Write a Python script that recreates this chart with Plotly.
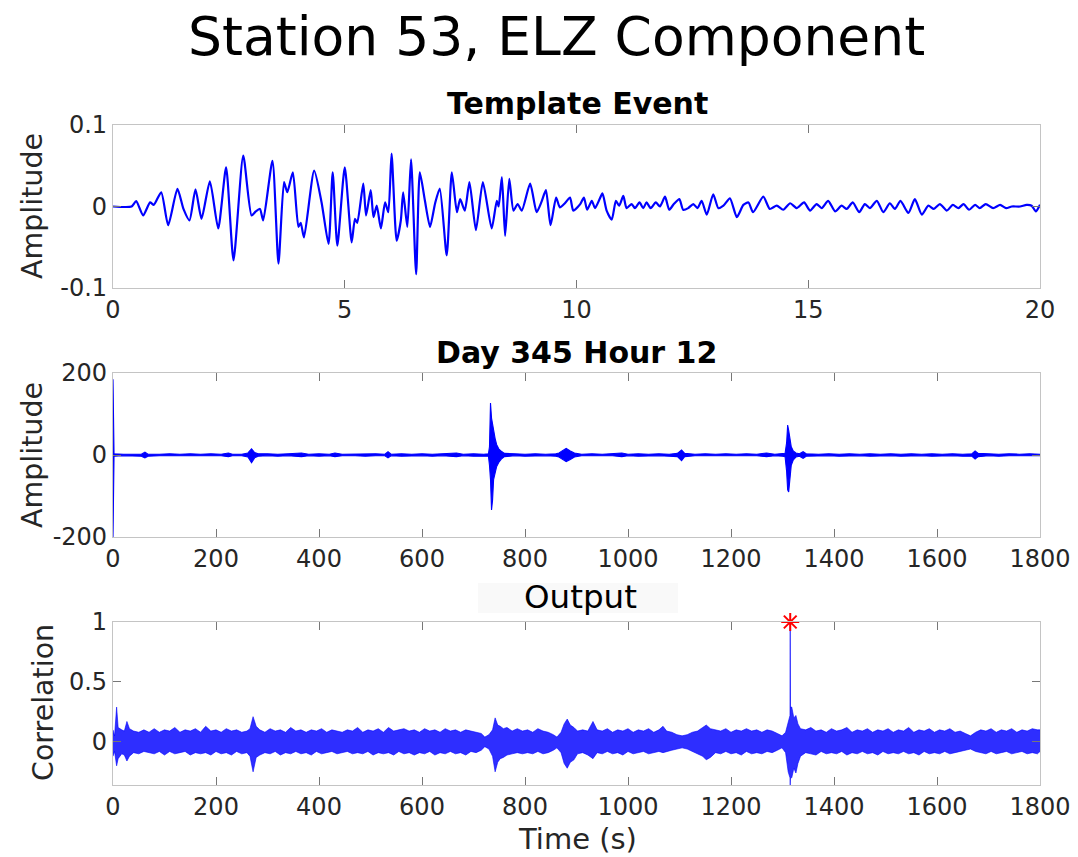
import plotly.graph_objects as go

# ---------------- Template event (seconds, amplitude) ----------------
tmpl_t = [0, 0.40, 0.50, 0.65, 0.80, 0.88, 1.04, 1.19, 1.39, 1.52, 1.65, 1.78, 1.91, 2.09, 2.27,
          2.44, 2.60, 2.81, 2.99, 3.08, 3.17, 3.24, 3.44, 3.57, 3.69, 3.76, 3.88, 4.00, 4.05, 4.12,
          4.34, 4.50, 4.65, 4.74, 4.84, 5.00, 5.15, 5.22, 5.27, 5.40, 5.46, 5.56, 5.62, 5.69, 5.78,
          5.87, 5.94, 6.01, 6.12, 6.21, 6.26, 6.35, 6.43, 6.54, 6.62, 6.73, 6.84, 6.95, 7.05, 7.20,
          7.31, 7.42, 7.49, 7.59, 7.69, 7.83, 7.98, 8.17, 8.28, 8.32, 8.39, 8.46, 8.55, 8.64, 8.73,
          8.82, 9.00, 9.14, 9.24, 9.34, 9.44, 9.56, 9.64, 9.75, 9.86, 9.93,
          10.08, 10.16, 10.23, 10.33, 10.40, 10.49, 10.56, 10.65, 10.76, 10.85, 10.92, 11.01, 11.08,
          11.19, 11.26, 11.36, 11.44, 11.51, 11.60, 11.71, 11.80, 11.91, 12.00, 12.10, 12.22, 12.30,
          12.41, 12.52, 12.61, 12.70, 12.81, 12.95, 13.06, 13.17, 13.31, 13.46, 13.60, 13.71, 13.81,
          14.03, 14.17, 14.32, 14.46, 14.61, 14.75, 14.91, 15.04, 15.18, 15.29, 15.43, 15.58, 15.72,
          15.83, 15.96, 16.10, 16.22, 16.33, 16.48, 16.62, 16.76, 16.87, 16.99, 17.16, 17.30, 17.45,
          17.59, 17.71, 17.84, 17.99, 18.12, 18.24, 18.35, 18.47, 18.60, 18.70, 18.83, 18.99, 19.14,
          19.27, 19.39, 19.57, 19.71, 19.82, 19.91, 20.0]
tmpl_amp = [0, 0, 0.0065, -0.011, 0.005, 0.002, 0.0175, -0.023, 0.0217, -0.003, -0.017, 0.021, -0.015,
            0.031, -0.027, 0.048, -0.066, 0.0626, -0.011, -0.006, -0.003, -0.017, 0.056, -0.070, 0.030,
            0.0175, 0.042, -0.025, -0.020, -0.038, 0.044, 0.005, -0.046, 0.042, -0.048, 0.048, -0.044,
            -0.015, -0.020, 0.028, -0.011, 0.020, -0.013, 0.001, -0.027, 0.005, -0.007, 0.065, -0.042,
            -0.017, 0.0175, -0.025, 0.058, -0.083, 0.042, 0.007, -0.025, 0.004, 0.022, -0.060, 0.042,
            -0.007, 0.009, -0.005, 0.030, -0.029, 0.030, -0.027, 0.007, 0.0, 0.036, -0.036, 0.034,
            -0.005, 0.003, -0.005, 0.028, -0.007, 0.005, 0.020, -0.023, 0.011, -0.001, 0.004, 0.011,
            -0.005,
            0.003, 0.011, -0.004, 0.007, -0.002, 0.008, 0.016, -0.005, -0.016, 0.007, 0.001, 0.013,
            -0.002, 0.003, -0.002, 0.005, -0.002, 0.005, -0.002, 0.005, 0.0, 0.012, -0.004, 0.003,
            0.009, -0.004, -0.002, 0.003, -0.002, 0.007, -0.010, 0.015, -0.002, 0.001, 0.010, -0.013,
            0.002, 0.005, -0.007, 0.012, -0.003, 0.001, -0.004, 0.004, -0.002, 0.005, -0.005, 0.003,
            -0.002, 0.007, -0.006, 0.001, -0.003, 0.005, -0.007, 0.003, -0.002, 0.007, -0.007, 0.004,
            -0.003, 0.007, -0.008, 0.009, -0.010, 0.001, -0.003, 0.003, -0.005, 0.002, -0.002, 0.003,
            -0.004, 0.002, -0.002, 0.003, -0.002, 0.002, -0.002, 0.0, 0.0, 0.002, 0.001, -0.006, 0.002]

# ---------------- Day 345 Hour 12 (envelope of the record) ----------------
day_t = [0, 2, 20, 40, 55, 62, 68, 90, 110, 130, 150, 170, 190, 210, 224, 232, 250, 262, 269, 275,
         282, 300, 320, 340, 366, 380, 400, 420, 431, 445, 470, 490, 510, 528, 534, 540, 560, 580,
         600, 620, 640, 667, 680, 700, 720, 729, 731, 733, 735, 737, 739, 742, 745, 749, 754, 760,
         780, 800, 820, 840, 860, 866, 872, 880, 888, 896, 910, 930, 950, 970, 988, 1000, 1020,
         1040, 1060, 1080, 1096, 1104, 1110, 1130, 1150, 1170, 1190, 1210, 1230, 1250, 1269, 1285,
         1300, 1305, 1308, 1310, 1312, 1314, 1317, 1321, 1326, 1333, 1340, 1346, 1370, 1390, 1410,
         1430, 1450, 1470, 1490, 1510, 1530, 1550, 1570, 1590, 1610, 1630, 1650, 1668, 1674, 1680,
         1700, 1720, 1740, 1760, 1780, 1800]
day_hi = [185, 3, 2, 3, 2, 7, 2, 2, 3, 2, 3, 2, 3, 2, 5, 2, 2, 5, 15, 6,
          3, 3, 2, 3, 5, 2, 3, 2, 5, 2, 3, 2, 3, 2, 8, 2, 3, 2,
          3, 2, 3, 5, 2, 3, 2, 3, 20, 127, 90, 75, 57, 40, 25, 15, 9, 4,
          3, 2, 3, 2, 3, 5, 10, 16, 10, 5, 2, 3, 2, 3, 5, 2, 3,
          2, 3, 2, 4, 12, 4, 2, 3, 2, 3, 2, 3, 2, 5, 2,
          3, 4, 30, 73, 60, 40, 20, 10, 5, 3, 8, 3, 2, 3, 2,
          3, 2, 3, 2, 3, 2, 3, 2, 3, 2, 3, 2, 3, 10, 4,
          3, 2, 3, 2, 3, 2]
day_lo = [-200, -3, -2, -2, -3, -7, -3, -2, -2, -3, -2, -2, -3, -2, -4, -2, -2, -5, -19, -7,
          -3, -2, -3, -2, -4, -2, -3, -2, -4, -2, -2, -3, -2, -2, -7, -2, -3, -2,
          -2, -3, -2, -4, -2, -3, -2, -3, -25, -60, -134, -110, -60, -45, -28, -18, -10, -4,
          -2, -3, -2, -2, -3, -5, -10, -16, -11, -5, -2, -2, -3, -2, -4, -2, -3,
          -2, -2, -3, -4, -14, -4, -2, -2, -3, -2, -2, -3, -2, -4, -2,
          -3, -4, -40, -85, -90, -60, -25, -12, -5, -3, -8, -3, -2, -2, -3,
          -2, -2, -3, -2, -2, -3, -2, -2, -3, -2, -2, -3, -3, -10, -4,
          -2, -3, -2, -2, -3, -2]

# ---------------- Correlation output (envelope) ----------------
corr_t = [0, 3, 7, 10, 17, 22, 27, 32, 40, 50, 60, 70, 80, 90, 100, 110, 120, 130, 140, 150, 160,
          170, 180, 190, 200, 210, 220, 230, 240, 250, 260, 266, 272, 278, 285, 295, 305, 315, 325,
          335, 345, 355, 365, 375, 385, 395, 405, 415, 425, 435, 445, 455, 465, 475, 485, 495, 505,
          515, 525, 535, 545, 555, 565, 575, 585, 595, 605, 615, 625, 635, 645, 655, 665, 675, 685,
          695, 705, 715, 722, 730, 737, 742, 747, 752, 758, 765, 775, 785, 795, 805, 815, 825, 835,
          845, 855, 862, 870, 876, 882, 888, 895, 902, 912, 922, 932, 940, 950, 960, 970, 980, 990,
          1000, 1010, 1020, 1030, 1040, 1050, 1060, 1068, 1075, 1085, 1095, 1105, 1115, 1125, 1135,
          1145, 1152, 1160, 1170, 1180, 1190, 1200, 1210, 1220, 1230, 1240, 1250, 1260, 1270, 1280,
          1290, 1299, 1306, 1311, 1314.5, 1315, 1315.5, 1318, 1322, 1326, 1330, 1335, 1345, 1355,
          1365, 1375, 1385, 1395, 1405, 1415, 1425, 1435, 1445, 1455, 1465, 1475, 1485, 1495, 1505,
          1515, 1525, 1535, 1545, 1555, 1565, 1575, 1585, 1595, 1605, 1615, 1625, 1635, 1645, 1655,
          1665, 1675, 1685, 1695, 1705, 1715, 1725, 1735, 1745, 1755, 1765, 1775, 1785, 1795, 1800]
corr_hi = [0.10, 0.05, 0.29, 0.12, 0.10, 0.09, 0.17, 0.11, 0.09, 0.08, 0.10, 0.08, 0.11, 0.08, 0.10,
           0.09, 0.12, 0.08, 0.10, 0.09, 0.11, 0.08, 0.13, 0.09, 0.10, 0.08, 0.11, 0.09, 0.10, 0.08,
           0.09, 0.11, 0.21, 0.13, 0.10, 0.08, 0.11, 0.09, 0.10, 0.08, 0.12, 0.09, 0.10, 0.08, 0.10,
           0.09, 0.11, 0.08, 0.10, 0.09, 0.08, 0.10, 0.09, 0.12, 0.08, 0.10, 0.09, 0.11, 0.08, 0.12,
           0.09, 0.10, 0.11, 0.09, 0.10, 0.08, 0.11, 0.09, 0.10, 0.08, 0.11, 0.09, 0.10, 0.08, 0.10,
           0.09, 0.08, 0.07, 0.04, 0.06, 0.10, 0.20, 0.14, 0.13, 0.11, 0.12, 0.09, 0.11, 0.09, 0.10,
           0.08, 0.11, 0.09, 0.08, 0.06, 0.04, 0.08, 0.15, 0.19, 0.14, 0.12, 0.09, 0.10, 0.09, 0.17,
           0.10, 0.09, 0.11, 0.08, 0.10, 0.09, 0.11, 0.08, 0.10, 0.09, 0.11, 0.08, 0.10, 0.13, 0.09,
           0.08, 0.06, 0.05, 0.06, 0.08, 0.09, 0.12, 0.14, 0.11, 0.10, 0.09, 0.11, 0.08, 0.10, 0.09,
           0.11, 0.09, 0.10, 0.08, 0.10, 0.09, 0.07, 0.05, 0.08, 0.15, 0.22, 1.0, 0.29, 0.29, 0.20,
           0.22, 0.15, 0.11, 0.10, 0.12, 0.09, 0.10, 0.08, 0.11, 0.09, 0.10, 0.12, 0.08, 0.10, 0.09,
           0.11, 0.08, 0.10, 0.09, 0.11, 0.08, 0.10, 0.09, 0.12, 0.08, 0.10, 0.09, 0.11, 0.08, 0.10,
           0.09, 0.11, 0.08, 0.09, 0.07, 0.05, 0.08, 0.10, 0.09, 0.11, 0.08, 0.10, 0.09, 0.11, 0.08,
           0.10, 0.09, 0.11, 0.10, 0.10]
corr_lo = [-0.12, -0.08, -0.20, -0.14, -0.10, -0.11, -0.16, -0.12, -0.09, -0.10, -0.08, -0.09, -0.10,
           -0.08, -0.11, -0.08, -0.10, -0.09, -0.08, -0.11, -0.09, -0.10, -0.09, -0.11, -0.08, -0.10,
           -0.09, -0.11, -0.08, -0.10, -0.09, -0.12, -0.25, -0.13, -0.11, -0.09, -0.10, -0.08, -0.11,
           -0.09, -0.10, -0.08, -0.10, -0.09, -0.11, -0.08, -0.10, -0.09, -0.08, -0.10, -0.09, -0.08,
           -0.10, -0.09, -0.10, -0.08, -0.11, -0.09, -0.10, -0.09, -0.11, -0.08, -0.10, -0.09, -0.11,
           -0.09, -0.10, -0.08, -0.11, -0.09, -0.10, -0.08, -0.10, -0.09, -0.11, -0.08, -0.09, -0.07,
           -0.04, -0.06, -0.12, -0.25, -0.17, -0.14, -0.13, -0.11, -0.10, -0.09, -0.10, -0.09, -0.10,
           -0.08, -0.10, -0.09, -0.07, -0.05, -0.09, -0.18, -0.22, -0.17, -0.15, -0.10, -0.09, -0.11,
           -0.14, -0.09, -0.10, -0.08, -0.10, -0.09, -0.11, -0.08, -0.10, -0.09, -0.08, -0.10, -0.09,
           -0.08, -0.09, -0.08, -0.07, -0.06, -0.05, -0.06, -0.08, -0.10, -0.12, -0.15, -0.13, -0.09,
           -0.10, -0.08, -0.10, -0.09, -0.11, -0.08, -0.10, -0.09, -0.10, -0.08, -0.09, -0.07, -0.05,
           -0.09, -0.25, -0.30, -0.36, -0.30, -0.30, -0.22, -0.26, -0.18, -0.12, -0.09, -0.10, -0.11,
           -0.08, -0.10, -0.09, -0.10, -0.08, -0.11, -0.09, -0.10, -0.08, -0.10, -0.09, -0.11, -0.08,
           -0.10, -0.09, -0.10, -0.08, -0.10, -0.09, -0.11, -0.08, -0.10, -0.09, -0.10, -0.08, -0.10,
           -0.09, -0.08, -0.07, -0.06, -0.08, -0.09, -0.10, -0.08, -0.10, -0.09, -0.08, -0.10, -0.09,
           -0.08, -0.10, -0.09, -0.10, -0.08]

peak_t = [1315]
peak_val = [1.0]

# tick labels
tmpl_xticks = [0, 5, 10, 15, 20]
tmpl_yticks = [-0.1, 0, 0.1]
tmpl_ytext = ["-0.1", "0", "0.1"]
hour_xticks = [0, 200, 400, 600, 800, 1000, 1200, 1400, 1600, 1800]
day_yticks = [-200, 0, 200]
day_ytext = ["-200", "0", "200"]
corr_yticks = [0, 0.5, 1]
corr_ytext = ["0", "0.5", "1"]

BLUE = "#0000ff"
FONT = "DejaVu Sans"
W, H = 1078, 857

fig = go.Figure()
fig.add_trace(go.Scatter(x=tmpl_t, y=tmpl_amp, mode="lines",
                         line=dict(color=BLUE, width=2.2, shape="spline", smoothing=0.6),
                         xaxis="x", yaxis="y", hoverinfo="skip"))
fig.add_trace(go.Scatter(x=day_t, y=day_lo, mode="lines", line=dict(color=BLUE, width=1.1),
                         xaxis="x2", yaxis="y2", hoverinfo="skip"))
fig.add_trace(go.Scatter(x=day_t, y=day_hi, mode="lines", line=dict(color=BLUE, width=1.1),
                         fill="tonexty", fillcolor=BLUE, xaxis="x2", yaxis="y2", hoverinfo="skip"))
fig.add_trace(go.Scatter(x=corr_t, y=corr_lo, mode="lines", line=dict(color=BLUE, width=0.6),
                         xaxis="x3", yaxis="y3", hoverinfo="skip"))
fig.add_trace(go.Scatter(x=corr_t, y=corr_hi, mode="lines", line=dict(color=BLUE, width=0.6),
                         fill="tonexty", fillcolor="rgba(0,0,255,0.82)", xaxis="x3", yaxis="y3",
                         hoverinfo="skip"))
fig.add_trace(go.Scatter(x=peak_t, y=peak_val, mode="markers", cliponaxis=False,
                         marker=dict(symbol="asterisk-open", size=15, color="red",
                                     line=dict(color="red", width=2)),
                         xaxis="x3", yaxis="y3", hoverinfo="skip"))


def px_dom_x(a, b):
    return [a / W, b / W]


def px_dom_y(top, bottom):
    return [1 - bottom / H, 1 - top / H]


ax_common = dict(showline=True, mirror="ticks", linecolor="#c4c4c4", linewidth=1.2,
                 ticks="inside", ticklen=8, tickwidth=1.3, tickcolor="#777777",
                 showgrid=False, zeroline=False, automargin=False,
                 tickfont=dict(family=FONT, size=24, color="#262626"))

xd = px_dom_x(113, 1040)
fig.update_layout(
    template="none",
    width=W, height=H, margin=dict(l=0, r=0, t=0, b=0, pad=0),
    paper_bgcolor="white", plot_bgcolor="white", showlegend=False,
    xaxis=dict(domain=xd, range=[0, 20], tickvals=tmpl_xticks, anchor="y", **ax_common),
    yaxis=dict(domain=px_dom_y(125, 288), range=[-0.1, 0.1], tickvals=tmpl_yticks,
               ticktext=tmpl_ytext, anchor="x", **ax_common),
    xaxis2=dict(domain=xd, range=[0, 1800], tickvals=hour_xticks, anchor="y2", **ax_common),
    yaxis2=dict(domain=px_dom_y(373, 537), range=[-200, 200], tickvals=day_yticks,
                ticktext=day_ytext, anchor="x2", **ax_common),
    xaxis3=dict(domain=xd, range=[0, 1800], tickvals=hour_xticks, anchor="y3", **ax_common),
    yaxis3=dict(domain=px_dom_y(622, 785), range=[-0.36, 1], tickvals=corr_yticks,
                ticktext=corr_ytext, anchor="x3", **ax_common),
)

# faint box behind "Output"
fig.add_shape(type="rect", xref="paper", yref="paper",
              x0=478 / W, x1=678 / W, y0=1 - 613 / H, y1=1 - 583 / H,
              fillcolor="#f9f9f9", line=dict(width=0), layer="below")


def ann(text, xpx, ypx, size, bold=False, angle=0, color="#262626"):
    fig.add_annotation(text=f"<b>{text}</b>" if bold else text, xref="paper", yref="paper",
                       x=xpx / W, y=1 - ypx / H, xanchor="center", yanchor="middle",
                       showarrow=False, textangle=angle,
                       font=dict(family=FONT, size=size, color=color))


ann("Station 53, ELZ Component", 556, 36, 53.5, color="#000000")
ann("Template Event", 577, 103, 30, bold=True, color="#000000")
ann("Day 345 Hour 12", 576, 352, 30, bold=True, color="#000000")
ann("Output", 580, 597, 32.5, color="#000000")
ann("Amplitude", 33, 206, 28.5, angle=-90)
ann("Amplitude", 33, 455, 28.5, angle=-90)
ann("Correlation", 43, 703, 28.5, angle=-90)
ann("Time (s)", 577, 839, 29)

fig.write_html("out.html")
